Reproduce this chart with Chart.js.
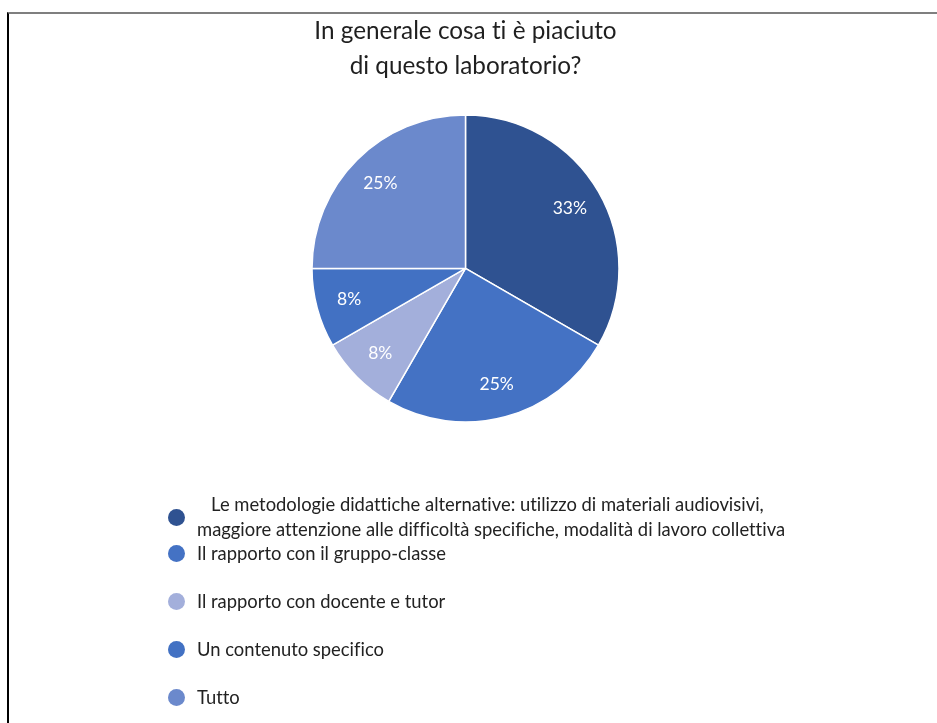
<!DOCTYPE html>
<html>
<head>
<meta charset="utf-8">
<script src="https://cdn.jsdelivr.net/npm/chart.js@4"></script>
<style>
  html, body { margin: 0; padding: 0; background: #fff; }
  #wrap { position: relative; width: 937px; height: 723px; overflow: hidden; font-family: Lato, "Open Sans", sans-serif; font-variant-ligatures: none; }
  #frame { position: absolute; left: 7px; top: 12px; right: 0; bottom: -5px; border-top: 2px solid #7f7f7f; border-left: 2px solid #000; }
  #cv { position: absolute; left: 0; top: 0; }
  #legend { position: absolute; left: 0; top: 0; width: 937px; height: 723px; pointer-events: none; }
  .li { position: absolute; left: 168px; display: flex; align-items: center; color: #222; font-size: 18.4px; }
  .dot { width: 17px; height: 17px; border-radius: 50%; flex: none; margin-right: 12px; }
  .txt { line-height: 25px; white-space: nowrap; font-variant-ligatures: none; }
</style>
</head>
<body>
<div id="wrap">
  <div id="frame"></div>
  <canvas id="cv" width="937" height="723"></canvas>
  <div id="legend"></div>
</div>
<script>
const titleLines = ["In generale cosa ti è piaciuto", "di questo laboratorio?"];
const categories = [
  "Le metodologie didattiche alternative: utilizzo di materiali audiovisivi, maggiore attenzione alle difficoltà specifiche, modalità di lavoro collettiva",
  "Il rapporto con il gruppo-classe",
  "Il rapporto con docente e tutor",
  "Un contenuto specifico",
  "Tutto"
];
const legendLines = [
  ["\u00a0\u00a0\u00a0Le metodologie didattiche alternative: utilizzo di materiali audiovisivi,", "maggiore attenzione alle difficoltà specifiche, modalità di lavoro collettiva"],
  ["Il rapporto con il gruppo-classe"],
  ["Il rapporto con docente e tutor"],
  ["Un contenuto specifico"],
  ["Tutto"]
];
const values = [4, 3, 1, 1, 3];
const colors = ["#2f5291", "#4472c4", "#a3afdb", "#4271c3", "#6b89cc"];

// legend (HTML)
const legendCenters = [517, 553, 601, 649, 697];
const legendEl = document.getElementById('legend');
categories.forEach((c, i) => {
  const row = document.createElement('div');
  row.className = 'li';
  const dot = document.createElement('span');
  dot.className = 'dot';
  dot.style.background = colors[i];
  const t = document.createElement('span');
  t.className = 'txt';
  t.innerHTML = legendLines[i].map(s => s.replace(/&/g,'&amp;').replace(/</g,'&lt;')).join('<br>');
  row.appendChild(dot); row.appendChild(t);
  legendEl.appendChild(row);
  const h = legendLines[i].length * 25;
  row.style.top = (legendCenters[i] - h / 2) + 'px';
});

const pctLabels = {
  id: 'pctLabels',
  afterDatasetsDraw(chart) {
    const ctx = chart.ctx;
    const meta = chart.getDatasetMeta(0);
    const data = chart.data.datasets[0].data;
    const total = data.reduce((a, b) => a + b, 0);
    ctx.save();
    ctx.fillStyle = '#ffffff';
    ctx.font = '17.5px Lato, "Open Sans", sans-serif';
    ctx.textAlign = 'center';
    ctx.textBaseline = 'middle';
    meta.data.forEach((arc, i) => {
      const p = arc.getProps(['x', 'y', 'startAngle', 'endAngle', 'outerRadius'], true);
      const mid = (p.startAngle + p.endAngle) / 2;
      const r = p.outerRadius * 0.785;
      ctx.fillText(Math.round(data[i] / total * 100) + '%', p.x + Math.cos(mid) * r, p.y + Math.sin(mid) * r);
    });
    ctx.restore();
  }
};

new Chart(document.getElementById('cv'), {
  type: 'pie',
  data: {
    labels: categories,
    datasets: [{
      data: values,
      backgroundColor: colors,
      borderColor: '#ffffff',
      borderWidth: 1.5,
      hoverOffset: 0
    }]
  },
  options: {
    responsive: false,
    animation: false,
    radius: 153.5,
    layout: { padding: { top: 0, bottom: 269.6, left: 312, right: 318 } },
    plugins: {
      legend: { display: false },
      tooltip: { enabled: false },
      title: {
        display: true,
        text: titleLines,
        color: '#1f1f1f',
        font: { family: 'Lato, "Open Sans", sans-serif', size: 24.3, weight: 'normal', lineHeight: 1.43 },
        padding: { top: 14, bottom: 0 }
      }
    }
  },
  plugins: [pctLabels]
});
</script>
</body>
</html>
